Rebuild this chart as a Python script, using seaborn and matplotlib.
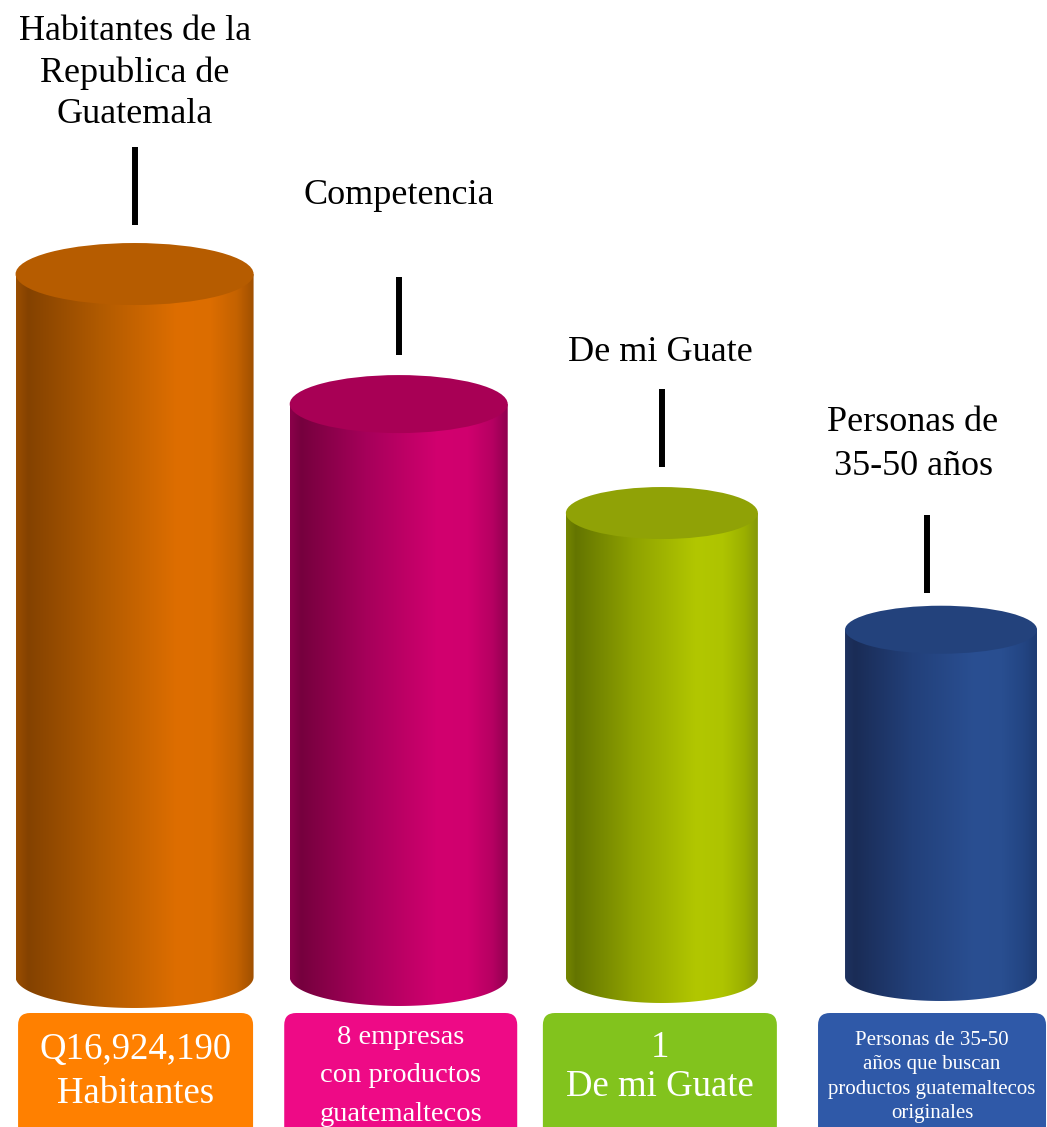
import numpy as np
import pandas as pd
import seaborn as sns
import matplotlib
matplotlib.use("Agg")
import matplotlib.pyplot as plt
from matplotlib.path import Path
from matplotlib.patches import PathPatch, Ellipse, FancyBboxPatch
from matplotlib.colors import LinearSegmentedColormap
from matplotlib.transforms import IdentityTransform

# ---- data -------------------------------------------------------------
categories = ["Habitantes", "Competencia", "De mi Guate", "Personas 35-50"]
values = [100, 81.5, 66, 49.4]
top_labels = [
    "Habitantes de la\nRepublica de\nGuatemala",
    "Competencia",
    "De mi Guate",
    "Personas de\n35-50 años",
]
box_labels = [
    "Q16,924,190\nHabitantes",
    "8 empresas\ncon productos\nguatemaltecos",
    "1\nDe mi Guate",
    "Personas de 35-50\naños que buscan\nproductos guatemaltecos\noriginales",
]

# ---- styling ----------------------------------------------------------
W, H = 1047, 1127
side_stops = [
    [(0, "#9A4E00"), (0.05, "#844200"), (0.35, "#B05A00"), (0.68, "#DE6E00"),
     (0.82, "#DC6D00"), (0.93, "#C46200"), (1.0, "#A05000")],
    [(0, "#8A004A"), (0.05, "#76003E"), (0.35, "#A6005A"), (0.68, "#D2006F"),
     (0.82, "#D0006E"), (0.93, "#B60062"), (1.0, "#900050")],
    [(0, "#748600"), (0.05, "#647500"), (0.35, "#8FA200"), (0.68, "#B2C700"),
     (0.82, "#AEC400"), (0.93, "#9BB000"), (1.0, "#86990A")],
    [(0, "#1E3260"), (0.05, "#1A2C56"), (0.35, "#22407A"), (0.68, "#2A4F92"),
     (0.82, "#294E90"), (0.93, "#234583"), (1.0, "#1E3C74")],
]
top_colors = ["#B65C00", "#A80055", "#90A206", "#23427C"]
box_colors = ["#FF8000", "#EE0A86", "#82C31D", "#2F59A8"]

bar_width_px = [238, 218, 192, 192]
bar_dx_px = [0, -5, -11, -1]
ellipse_ry_px = [31, 29, 26, 24]
line_dx_px = [0, 0, 0, -14]
line_gap_px = [18, 20, 20, 13]
line_len_px = 78
label_dx_px = [0, 0, -2, -28]
label_off_px = [170, 180, 135, 161]
label_ls = [1.32, 1.0, 1.0, 1.45]

box_dx_px = [1, 2, -2, -9]
box_w_px = [235, 233, 234, 228]
box_top_px = 1013
box_text_cy = [1072, 1076, 1067, 1077]
box_fs = [26.5, 20.5, 26.5, 15]
box_ls = [1.36, 1.7, 1.16, 1.38]

sns.set_theme(style="white")
plt.rcParams["font.family"] = ["Liberation Serif", "DejaVu Serif"]

fig = plt.figure(figsize=(W / 100, H / 100), dpi=100)
ax = fig.add_axes([0, 0, 1, 1])

df = pd.DataFrame({"cat": categories, "val": values})
sns.barplot(data=df, x="cat", y="val", hue="cat", palette=box_colors,
            legend=False, ax=ax, width=0.8)

ax.set_xlim(-0.5, 3.39)
ax.set_ylim(-21.34, 138.98)
ax.axis("off")

px_x = W / (3.39 + 0.5)
px_y = H / (138.98 + 21.34)

patches = list(ax.patches)
for i, p in enumerate(patches):
    cx = p.get_x() + p.get_width() / 2 + bar_dx_px[i] / px_x
    h = p.get_height()
    p.set_visible(False)
    rx = bar_width_px[i] / 2 / px_x
    ry = ellipse_ry_px[i] / px_y

    # cylinder side: rectangle plus the lower half of the base ellipse
    theta = np.linspace(np.pi, 2 * np.pi, 80)
    verts = [(cx - rx, h), (cx - rx, 0)]
    verts += [(cx + rx * np.cos(t), ry * np.sin(t)) for t in theta]
    verts += [(cx + rx, h), (cx - rx, h)]
    codes = [Path.MOVETO] + [Path.LINETO] * (len(verts) - 2) + [Path.CLOSEPOLY]
    side = PathPatch(Path(verts, codes), facecolor="none", edgecolor="none")
    ax.add_patch(side)

    cmap = LinearSegmentedColormap.from_list(f"side{i}", side_stops[i])
    grad = np.linspace(0, 1, 256)[np.newaxis, :]
    im = ax.imshow(grad, cmap=cmap, extent=(cx - rx, cx + rx, -ry, h),
                   aspect="auto", interpolation="bilinear", zorder=2)
    im.set_clip_path(side)

    ax.add_patch(Ellipse((cx, h), 2 * rx, 2 * ry, facecolor=top_colors[i],
                         edgecolor="none", zorder=3))

    # leader line and caption above each cylinder
    top = h + ry
    lx = cx + line_dx_px[i] / px_x
    ax.plot([lx, lx],
            [top + line_gap_px[i] / px_y, top + (line_gap_px[i] + line_len_px) / px_y],
            color="black", lw=4.3, solid_capstyle="butt", zorder=4)
    ax.text(cx + label_dx_px[i] / px_x, top + label_off_px[i] / px_y,
            top_labels[i], ha="center", va="center", fontsize=26,
            linespacing=label_ls[i], color="black")

    # coloured caption box under each cylinder
    cx_px = ax.transData.transform((cx, 0))[0] + box_dx_px[i]
    bw = box_w_px[i]
    box = FancyBboxPatch((cx_px - bw / 2, -20), bw, H - box_top_px + 20,
                         boxstyle="round,pad=0,rounding_size=12",
                         transform=IdentityTransform(), facecolor=box_colors[i],
                         edgecolor="none", zorder=2)
    fig.patches.append(box)
    fig.text(cx_px, H - box_text_cy[i], box_labels[i], transform=IdentityTransform(),
             ha="center", va="center", fontsize=box_fs[i], linespacing=box_ls[i],
             color="white", zorder=5)

fig.savefig("out.png", dpi=100, facecolor="white")
